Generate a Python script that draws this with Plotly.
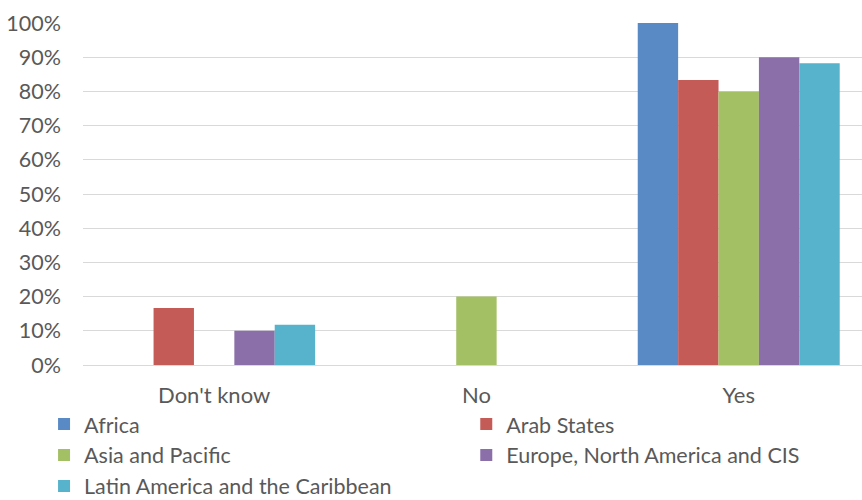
import plotly.graph_objects as go

categories = ["Don't know", "No", "Yes"]
series_names = ["Africa", "Arab States", "Asia and Pacific",
                "Europe, North America and CIS", "Latin America and the Caribbean"]
africa = [0, 0, 100]
arab_states = [16.7, 0, 83.3]
asia_pacific = [0, 20, 80]
europe_na_cis = [10, 0, 90]
latin_america = [11.8, 0, 88.2]
values = [africa, arab_states, asia_pacific, europe_na_cis, latin_america]
colors = ["#5A8AC5", "#C55B57", "#A4C064", "#8B6FA9", "#57B2CC"]
legend_ids = ["legend", "legend2", "legend", "legend2", "legend"]
y_tick_values = list(range(0, 101, 10))
y_tick_labels = [f"{v}%" for v in y_tick_values]

FONT = "Lato, 'Liberation Sans', sans-serif"
fig = go.Figure()
for name, vals, col, lg in zip(series_names, values, colors, legend_ids):
    fig.add_trace(go.Bar(name=name, x=categories, y=vals, marker_color=col,
                         marker_line_width=0, legend=lg))

legend_style = dict(orientation="v", yanchor="top", xanchor="left",
                    font=dict(family=FONT, size=21.5, color="#595959"),
                    bgcolor="rgba(0,0,0,0)", itemwidth=30, tracegroupgap=0)

fig.update_layout(
    width=862, height=500,
    margin=dict(l=83, r=0, t=23, b=135, autoexpand=False),
    paper_bgcolor="white", plot_bgcolor="white",
    barmode="group", bargap=0.23, bargroupgap=0,
    font=dict(family=FONT, size=21, color="#595959"),
    legend=dict(x=-0.05, y=-0.113, **legend_style),
    legend2=dict(x=0.492, y=-0.113, **legend_style),
    xaxis=dict(range=[-0.5, 2.47], showgrid=False, showline=False, ticks="",
               tickfont=dict(family=FONT, size=22, color="#595959"),
               ticklabelstandoff=15),
    yaxis=dict(range=[0, 100], tickmode="array", tickvals=y_tick_values,
               ticktext=y_tick_labels,
               showgrid=True, gridcolor="#D9D9D9", gridwidth=1.3,
               zeroline=True, zerolinecolor="#D9D9D9", zerolinewidth=1.3,
               showline=False, ticks="",
               tickfont=dict(family=FONT, size=21.5, color="#595959"),
               ticklabelstandoff=21),
)

fig.write_html("out.html",
               config={"displayModeBar": False},
               post_script="document.body.style.margin='0';document.body.style.overflow='hidden';")
